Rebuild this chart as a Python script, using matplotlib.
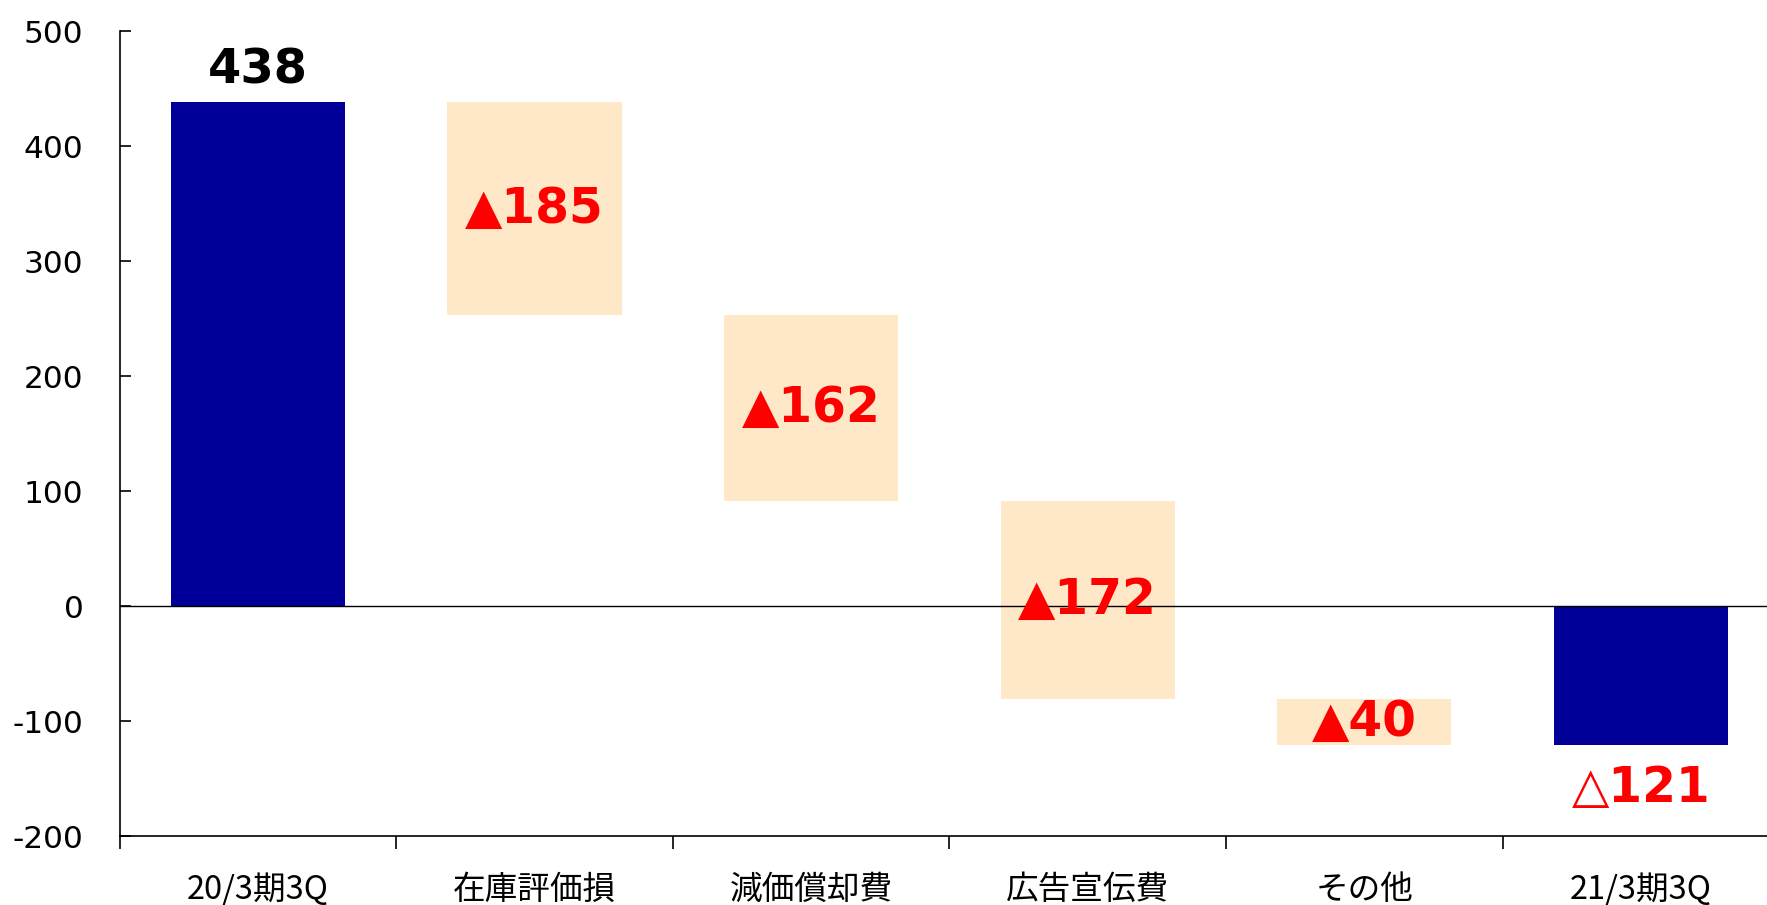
import matplotlib
matplotlib.use("Agg")
import matplotlib.pyplot as plt
import numpy as np

categories = ["20/3期3Q", "在庫評価損", "減価償却費", "広告宣伝費", "その他", "21/3期3Q"]
changes = [438, -185, -162, -172, -40, -121]
is_total = [True, False, False, False, False, True]
labels = ["438", "▲185", "▲162", "▲172", "▲40", "△121"]
yticks = [-200, -100, 0, 100, 200, 300, 400, 500]

navy = "#000099"
peach = "#FEE8C8"
red = "#FF0000"

fig = plt.figure(figsize=(17.67, 9.05), dpi=100)
ax = fig.add_axes([0.0677, 0.0762, 0.9392, 0.8895])

x = np.arange(len(categories)) + 0.5
running = 0
bottoms, heights = [], []
for v, tot in zip(changes, is_total):
    if tot:
        bottoms.append(0)
        heights.append(v)
        running = v
    else:
        bottoms.append(running + v)
        heights.append(-v)
        running = running + v

w = 0.63
for i in range(len(categories)):
    color = navy if is_total[i] else peach
    ax.bar(x[i], heights[i], bottom=bottoms[i], width=w, color=color, zorder=2)

ax.axhline(0, color="black", linewidth=1.0, zorder=3)

for i in range(len(categories)):
    if is_total[i]:
        top = bottoms[i] + heights[i]
        if changes[i] >= 0:
            ax.text(x[i], top + 28, labels[i], ha="center", va="center",
                    fontsize=34.5, fontweight="bold", color="black")
        else:
            ax.text(x[i], top - 37, labels[i], ha="center", va="center",
                    fontsize=35, fontweight="bold", color=red)
    else:
        mid = bottoms[i] + heights[i] / 2
        ax.text(x[i], mid, labels[i], ha="center", va="center",
                fontsize=35, fontweight="bold", color=red, zorder=4)

ax.set_xlim(0, len(categories))
ax.set_ylim(-200, 500)
ax.set_yticks(yticks)
ax.set_yticklabels([str(t) for t in yticks], fontsize=22.5)
ax.set_xticks(np.arange(len(categories) + 1))
ax.set_xticklabels([])
ax.set_xticks(x, minor=True)
ax.set_xticklabels(categories, minor=True, fontsize=23.5, family=["Noto Sans CJK JP", "DejaVu Sans"])
ax.tick_params(axis="y", direction="in", length=8, width=1.2, pad=26)
ax.tick_params(axis="x", which="major", direction="out", length=9, width=1.2)
ax.tick_params(axis="x", which="minor", length=0, pad=27)

for s in ["top", "right"]:
    ax.spines[s].set_visible(False)
ax.spines["left"].set_linewidth(1.2)
ax.spines["bottom"].set_linewidth(1.2)

fig.savefig("out.png", dpi=100)
